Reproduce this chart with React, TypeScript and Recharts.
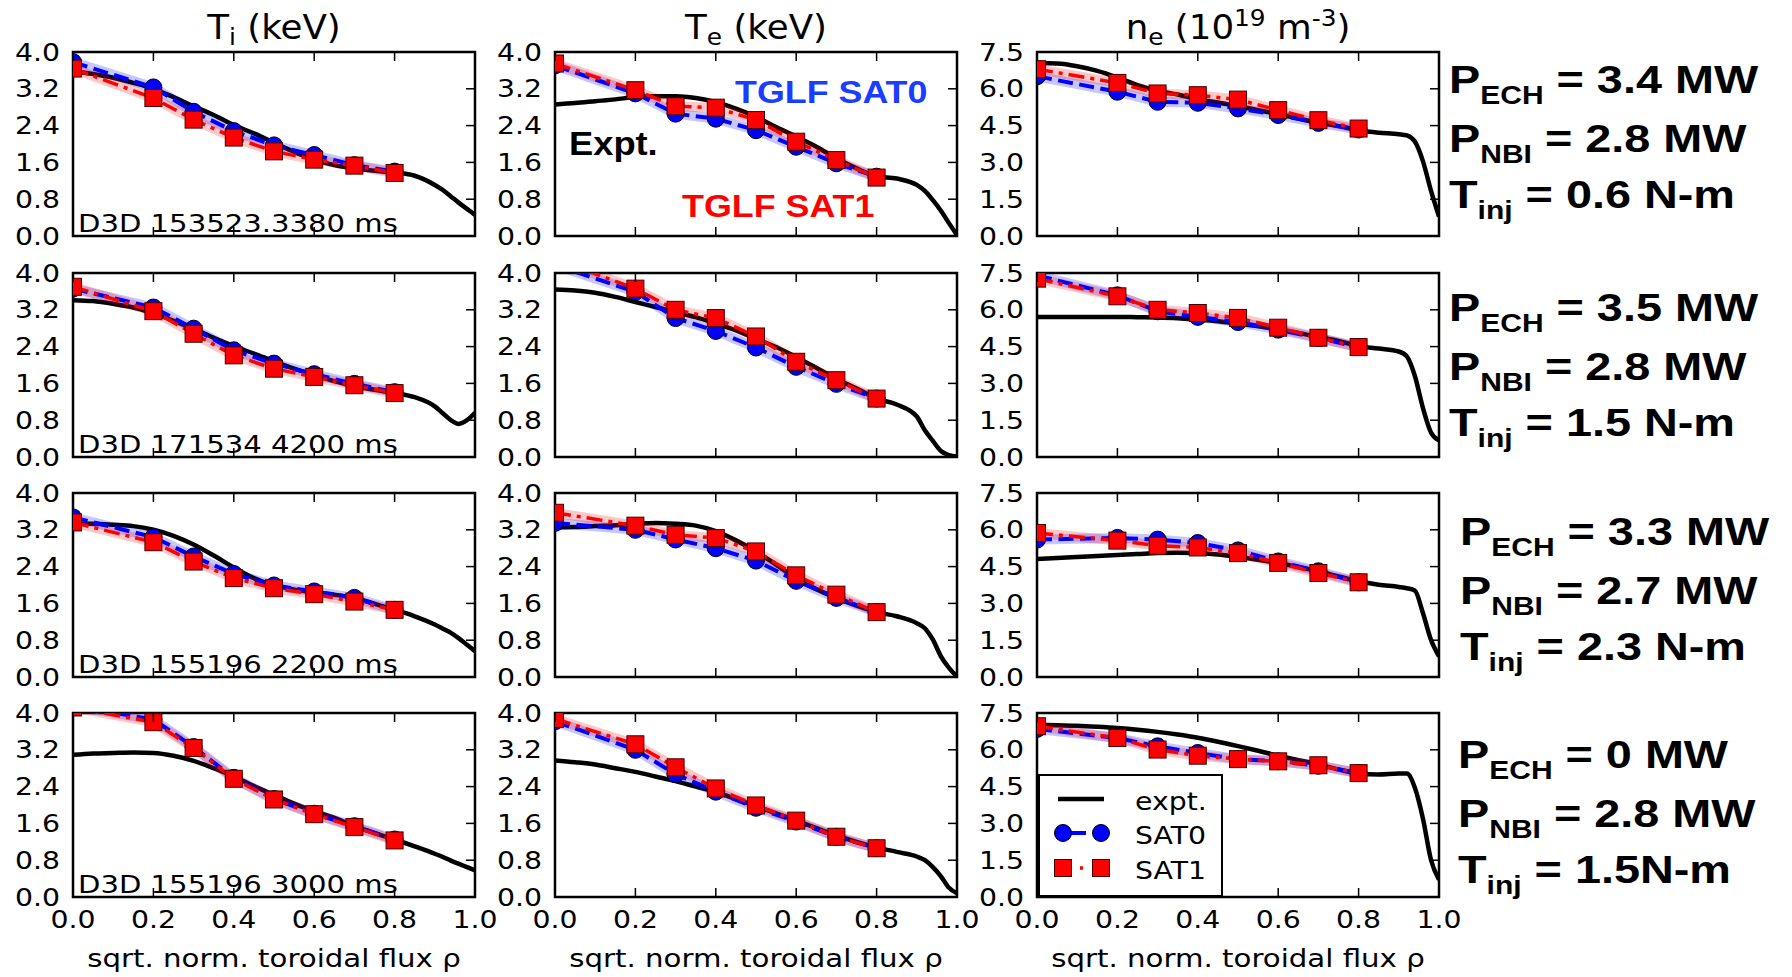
import React from "react";
import { LineChart, Line, XAxis, YAxis, ReferenceArea } from "recharts";

// radial grid of the measured profiles and of the TGLF runs
const rhoExpt = [0, 0.05, 0.1, 0.15, 0.2, 0.25, 0.3, 0.35, 0.4, 0.45, 0.5, 0.55, 0.6, 0.65, 0.7, 0.75, 0.8, 0.85, 0.9, 0.92, 0.94, 0.96, 0.98, 1.0];
const rhoModel = [0, 0.2, 0.3, 0.4, 0.5, 0.6, 0.7, 0.8];

// measured profiles, one row per discharge
const tiExpt = [
  [3.58, 3.52, 3.44, 3.33, 3.2, 3.02, 2.82, 2.63, 2.41, 2.23, 2.03, 1.83, 1.66, 1.54, 1.47, 1.42, 1.38, 1.31, 1.11, 1.0, 0.86, 0.72, 0.59, 0.46],
  [3.41, 3.39, 3.33, 3.25, 3.12, 2.96, 2.79, 2.59, 2.41, 2.25, 2.08, 1.92, 1.78, 1.65, 1.54, 1.46, 1.39, 1.3, 1.1, 0.95, 0.8, 0.72, 0.8, 0.96],
  [3.33, 3.33, 3.31, 3.28, 3.2, 3.07, 2.88, 2.64, 2.38, 2.15, 1.99, 1.9, 1.84, 1.79, 1.72, 1.59, 1.46, 1.32, 1.14, 1.05, 0.96, 0.84, 0.7, 0.56],
  [3.09, 3.12, 3.13, 3.14, 3.13, 3.07, 2.96, 2.8, 2.62, 2.41, 2.22, 2.03, 1.86, 1.72, 1.54, 1.39, 1.25, 1.1, 0.94, 0.87, 0.79, 0.72, 0.65, 0.58],
];
const teExpt = [
  [2.86, 2.89, 2.93, 2.97, 3.02, 3.04, 3.04, 3.0, 2.91, 2.77, 2.59, 2.37, 2.16, 1.94, 1.69, 1.47, 1.3, 1.25, 1.11, 0.98, 0.78, 0.55, 0.28, 0.02],
  [3.64, 3.62, 3.57, 3.48, 3.37, 3.26, 3.15, 3.04, 2.9, 2.75, 2.57, 2.39, 2.17, 1.94, 1.7, 1.49, 1.27, 1.14, 0.88, 0.58, 0.35, 0.13, 0.04, 0.01],
  [3.25, 3.26, 3.28, 3.3, 3.33, 3.35, 3.33, 3.29, 3.17, 2.97, 2.73, 2.44, 2.15, 1.91, 1.72, 1.55, 1.41, 1.32, 1.17, 1.06, 0.81, 0.45, 0.2, 0.01],
  [2.97, 2.93, 2.88, 2.8, 2.72, 2.62, 2.52, 2.4, 2.28, 2.13, 1.98, 1.82, 1.66, 1.5, 1.34, 1.2, 1.08, 0.98, 0.88, 0.8, 0.65, 0.45, 0.2, 0.08],
];
const neExpt = [
  [7.05, 7.03, 6.92, 6.73, 6.46, 6.15, 5.92, 5.77, 5.58, 5.44, 5.29, 5.13, 4.97, 4.79, 4.61, 4.48, 4.31, 4.21, 4.15, 4.1, 3.85, 3.05, 1.85, 0.79],
  [5.71, 5.71, 5.71, 5.71, 5.71, 5.7, 5.69, 5.66, 5.6, 5.53, 5.43, 5.33, 5.19, 5.06, 4.89, 4.73, 4.52, 4.42, 4.3, 4.1, 3.3, 2.0, 1.0, 0.68],
  [4.81, 4.85, 4.89, 4.93, 4.97, 5.01, 5.05, 5.06, 5.05, 4.99, 4.89, 4.78, 4.65, 4.48, 4.31, 4.1, 3.9, 3.76, 3.67, 3.62, 3.52, 2.61, 1.52, 0.84],
  [7.02, 7.0, 6.98, 6.94, 6.89, 6.82, 6.73, 6.62, 6.49, 6.33, 6.15, 5.96, 5.76, 5.58, 5.4, 5.2, 5.03, 4.99, 5.03, 5.03, 4.45, 3.2, 1.52, 0.71],
];

// TGLF SAT0 / SAT1 predictions at rhoModel
const tiSat0 = [
  [3.78, 3.23, 2.7, 2.28, 1.97, 1.76, 1.54, 1.4],
  [3.66, 3.25, 2.79, 2.32, 2.03, 1.8, 1.59, 1.41],
  [3.47, 3.04, 2.62, 2.24, 1.99, 1.86, 1.72, 1.46],
  [4.15, 3.86, 3.26, 2.59, 2.13, 1.81, 1.54, 1.25],
];
const tiSat1 = [
  [3.64, 3.0, 2.53, 2.14, 1.84, 1.66, 1.53, 1.37],
  [3.7, 3.17, 2.68, 2.21, 1.92, 1.74, 1.56, 1.39],
  [3.36, 2.93, 2.51, 2.15, 1.93, 1.8, 1.64, 1.46],
  [4.12, 3.8, 3.24, 2.57, 2.12, 1.8, 1.52, 1.23],
];
const teSat0 = [
  [3.71, 3.1, 2.66, 2.55, 2.3, 1.94, 1.58, 1.29],
  [4.17, 3.59, 3.02, 2.74, 2.38, 1.96, 1.59, 1.27],
  [3.35, 3.2, 2.99, 2.8, 2.53, 2.09, 1.72, 1.41],
  [3.82, 3.2, 2.67, 2.29, 1.94, 1.64, 1.31, 1.06],
];
const teSat1 = [
  [3.75, 3.17, 2.82, 2.79, 2.52, 2.05, 1.65, 1.27],
  [4.3, 3.66, 3.2, 3.02, 2.62, 2.07, 1.67, 1.27],
  [3.57, 3.29, 3.09, 3.02, 2.73, 2.21, 1.79, 1.41],
  [3.87, 3.32, 2.82, 2.36, 1.99, 1.66, 1.31, 1.06],
];
const neSat0 = [
  [6.51, 5.88, 5.47, 5.43, 5.2, 4.93, 4.61, 4.34],
  [7.4, 6.59, 5.94, 5.71, 5.5, 5.19, 4.85, 4.48],
  [5.6, 5.67, 5.6, 5.46, 5.16, 4.71, 4.31, 3.86],
  [6.85, 6.48, 6.14, 5.87, 5.62, 5.53, 5.35, 5.05],
];
const neSat1 = [
  [6.8, 6.24, 5.81, 5.74, 5.56, 5.13, 4.72, 4.38],
  [7.27, 6.55, 6.0, 5.87, 5.67, 5.27, 4.86, 4.48],
  [5.87, 5.56, 5.35, 5.28, 5.05, 4.65, 4.24, 3.86],
  [6.96, 6.48, 6.01, 5.76, 5.62, 5.53, 5.37, 5.05],
];

const rhoTicks = [0, 0.2, 0.4, 0.6, 0.8, 1.0];
const tempTicks = [0, 0.8, 1.6, 2.4, 3.2, 4.0];
const densTicks = [0, 1.5, 3.0, 4.5, 6.0, 7.5];

const shots = ["D3D 153523.3380 ms", "D3D 171534 4200 ms", "D3D 155196 2200 ms", "D3D 155196 3000 ms"];
const pEch = ["3.4", "3.5", "3.3", "0"];
const pNbi = ["2.8", "2.8", "2.7", "2.8"];
const tInj = ["0.6 N-m", "1.5 N-m", "2.3 N-m", "1.5N-m"];

// layout
const COL_X = [73, 555, 1037];
const ROW_Y = [52, 273, 493, 713];
const PW = 402;
const PH = 184;
const YW = 73;
const MT = 16;
const MR = 34;
const XH = 50;
const RIGHT_X = [1449, 1449, 1460, 1458];
const RIGHT_Y = [93, 321, 545, 768];

const BLUE = "#0000ff";
const RED = "#ff0000";
const SANS = "DejaVu Sans";
const ARIAL = "Liberation Sans, Arial, sans-serif";

const pts = (xs: number[], ys: number[]) => xs.map((x, i) => ({ x, v: ys[i] }));

function SText({ x, y, sx = 1, anchor = "start", size, weight = "normal", family = SANS, fill = "#000", children }: any) {
  return (
    <text
      transform={`translate(${x},${y}) scale(${sx},1)`}
      textAnchor={anchor}
      fontSize={size}
      fontWeight={weight}
      fontFamily={family}
      fill={fill}
    >
      {children}
    </text>
  );
}

function xTick(withLabel: boolean) {
  return (p: any) => {
    const { x, y, payload } = p;
    return (
      <g>
        <line x1={x} y1={y} x2={x} y2={y - 9} stroke="#000" strokeWidth={1.5} />
        <line x1={x} y1={y - PH} x2={x} y2={y - PH + 9} stroke="#000" strokeWidth={1.5} />
        {withLabel && (
          <SText x={x} y={y + 31} sx={1.18} anchor="middle" size={24}>
            {Number(payload.value).toFixed(1)}
          </SText>
        )}
      </g>
    );
  };
}

const yTick = (p: any) => {
  const { x, y, payload } = p;
  return (
    <g>
      <line x1={x + PW - 9} y1={y} x2={x + PW} y2={y} stroke="#000" strokeWidth={1.5} />
      <SText x={x - 13} y={y + 8.5} sx={1.18} anchor="end" size={24}>
        {Number(payload.value).toFixed(1)}
      </SText>
    </g>
  );
};

const circleDot = (p: any) => (
  <circle key={p.index} cx={p.cx} cy={p.cy} r={8.5} fill={BLUE} stroke="#000" strokeWidth={1} />
);
const squareDot = (p: any) => (
  <rect key={p.index} x={p.cx - 8.5} y={p.cy - 8.5} width={17} height={17} fill={RED} stroke="#400" strokeWidth={1} />
);

function Panel({ row, col }: { row: number; col: number }) {
  const yMax = col === 2 ? 7.5 : 4;
  const yTicks = col === 2 ? densTicks : tempTicks;
  const expt = pts(rhoExpt, [tiExpt, teExpt, neExpt][col][row]);
  const sat0 = pts(rhoModel, [tiSat0, teSat0, neSat0][col][row]);
  const sat1 = pts(rhoModel, [tiSat1, teSat1, neSat1][col][row]);
  return (
    <div style={{ position: "absolute", left: COL_X[col] - YW, top: ROW_Y[row] - MT }}>
      <LineChart width={YW + PW + MR} height={MT + PH + XH} margin={{ top: MT, right: MR, bottom: 0, left: 0 }}>
        <XAxis
          type="number"
          dataKey="x"
          domain={[0, 1]}
          ticks={rhoTicks}
          allowDataOverflow
          interval={0}
          height={XH}
          tickSize={0}
          tickMargin={0}
          tickLine={false}
          axisLine={false}
          tick={xTick(row === 3)}
        />
        <YAxis
          type="number"
          domain={[0, yMax]}
          ticks={yTicks}
          allowDataOverflow
          interval={0}
          width={YW}
          tickSize={0}
          tickMargin={0}
          tickLine={false}
          axisLine={false}
          tick={yTick}
        />
        <Line data={expt} dataKey="v" type="monotone" stroke="#000" strokeWidth={4.5} dot={false} isAnimationActive={false} />
        <Line data={sat0} dataKey="v" stroke={BLUE} strokeOpacity={0.22} strokeWidth={10} dot={false} isAnimationActive={false} />
        <Line data={sat1} dataKey="v" stroke={RED} strokeOpacity={0.22} strokeWidth={10} dot={false} isAnimationActive={false} />
        <Line data={sat0} dataKey="v" stroke={BLUE} strokeWidth={4} strokeDasharray="15 6.5" dot={circleDot} isAnimationActive={false} />
        <Line data={sat1} dataKey="v" stroke={RED} strokeWidth={3.5} strokeDasharray="16 6 4 6" dot={squareDot} isAnimationActive={false} />
        <ReferenceArea x1={0} x2={1} y1={0} y2={yMax} fill="none" stroke="#000" strokeWidth={2.5} />
      </LineChart>
    </div>
  );
}

function Overlay() {
  const cx = COL_X.map((x) => x + PW / 2);
  return (
    <svg width={1792} height={977} style={{ position: "absolute", left: 0, top: 0, pointerEvents: "none" }}>
      <SText x={cx[0]} y={39} sx={1.08} size={33} anchor="middle">
        T<tspan fontSize={23} dy={6}>i</tspan>
        <tspan dy={-6}>{" (keV)"}</tspan>
      </SText>
      <SText x={cx[1]} y={39} sx={1.08} size={33} anchor="middle">
        T<tspan fontSize={23} dy={6}>e</tspan>
        <tspan dy={-6}>{" (keV)"}</tspan>
      </SText>
      <SText x={cx[2]} y={39} sx={1.08} size={33} anchor="middle">
        n<tspan fontSize={23} dy={6}>e</tspan>
        <tspan dy={-6}>{" (10"}</tspan>
        <tspan fontSize={23} dy={-13}>19</tspan>
        <tspan dy={13}>{" m"}</tspan>
        <tspan fontSize={23} dy={-13}>-3</tspan>
        <tspan dy={13}>)</tspan>
      </SText>

      {cx.map((x, i) => (
        <SText key={i} x={x} y={967} sx={1.17} size={25} anchor="middle">
          sqrt. norm. toroidal flux ρ
        </SText>
      ))}

      {shots.map((s, r) => (
        <SText key={r} x={78} y={ROW_Y[r] + PH - 4.5} sx={1.165} size={25}>
          {s}
        </SText>
      ))}

      <SText x={735} y={103} sx={1.12} size={32} weight="bold" family={ARIAL} fill="#1a3dff">
        TGLF SAT0
      </SText>
      <SText x={569} y={155} sx={1.1} size={33} weight="bold" family={ARIAL}>
        Expt.
      </SText>
      <SText x={682} y={217} sx={1.12} size={32} weight="bold" family={ARIAL} fill={RED}>
        TGLF SAT1
      </SText>

      {pEch.map((v, r) => (
        <g key={r}>
          <SText x={RIGHT_X[r]} y={RIGHT_Y[r]} sx={1.2} size={39} weight="bold" family={ARIAL}>
            P<tspan fontSize={25} dy={11}>ECH</tspan>
            <tspan dy={-11}>{` = ${v} MW`}</tspan>
          </SText>
          <SText x={RIGHT_X[r]} y={RIGHT_Y[r] + 59} sx={1.2} size={39} weight="bold" family={ARIAL}>
            P<tspan fontSize={25} dy={11}>NBI</tspan>
            <tspan dy={-11}>{` = ${pNbi[r]} MW`}</tspan>
          </SText>
          <SText x={RIGHT_X[r]} y={RIGHT_Y[r] + 115} sx={1.2} size={39} weight="bold" family={ARIAL}>
            T<tspan fontSize={25} dy={11}>inj</tspan>
            <tspan dy={-11}>{` = ${tInj[r]}`}</tspan>
          </SText>
        </g>
      ))}

      <g>
        <rect x={1039} y={775} width={183} height={121} fill="#fff" stroke="#000" strokeWidth={2} />
        <line x1={1058} y1={799} x2={1104} y2={799} stroke="#000" strokeWidth={4.5} />
        <line x1={1062} y1={833} x2={1102} y2={833} stroke={BLUE} strokeWidth={4} strokeDasharray="24 7" />
        <circle cx={1063} cy={833} r={8.5} fill={BLUE} stroke="#000" strokeWidth={1} />
        <circle cx={1101} cy={833} r={8.5} fill={BLUE} stroke="#000" strokeWidth={1} />
        <line x1={1062} y1={868} x2={1102} y2={868} stroke={RED} strokeWidth={3.5} strokeDasharray="8 10 3 30" />
        <rect x={1054.5} y={859.5} width={17} height={17} fill={RED} stroke="#400" strokeWidth={1} />
        <rect x={1092.5} y={859.5} width={17} height={17} fill={RED} stroke="#400" strokeWidth={1} />
        <SText x={1135} y={810} sx={1.18} size={24}>expt.</SText>
        <SText x={1135} y={844} sx={1.18} size={24}>SAT0</SText>
        <SText x={1135} y={879} sx={1.18} size={24}>SAT1</SText>
      </g>
    </svg>
  );
}

export default function App() {
  const rows = [0, 1, 2, 3];
  const cols = [0, 1, 2];
  return (
    <div style={{ position: "absolute", left: 0, top: 0, width: 1792, height: 977, background: "#fff", fontFamily: SANS }}>
      {rows.map((r) => cols.map((c) => <Panel key={`${r}-${c}`} row={r} col={c} />))}
      <Overlay />
    </div>
  );
}
